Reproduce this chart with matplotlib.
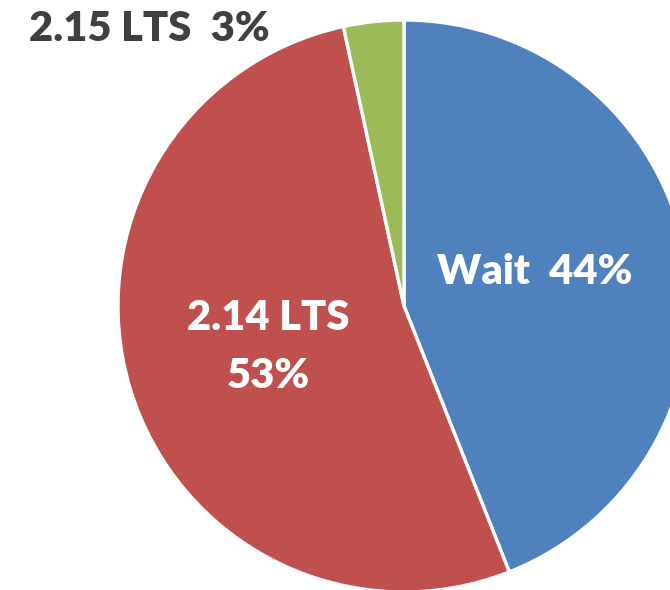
import matplotlib
matplotlib.use("Agg")
import matplotlib.pyplot as plt

categories = ["Wait", "2.14 LTS", "2.15 LTS"]
values = [44.0, 52.6, 3.4]
colors = ["#4F81BD", "#C0504D", "#9BBB59"]

W, H = 670, 590
fig = plt.figure(figsize=(W / 100, H / 100), dpi=100)
ax = fig.add_axes([0, 0, 1, 1])
ax.set_xlim(0, W)
ax.set_ylim(0, H)
ax.set_aspect("equal")
ax.axis("off")

cx, cy, r = 404, H - 306, 286
ax.pie(values, colors=colors, startangle=90, counterclock=False,
       center=(cx, cy), radius=r,
       wedgeprops=dict(edgecolor="white", linewidth=2.4))
ax.set_xlim(0, W)
ax.set_ylim(0, H)

font = dict(family=["Lato", "DejaVu Sans"], fontweight="heavy")
pct = [f"{round(v)}%" for v in values]
ax.text(535, H - 272, f"{categories[0]}  {pct[0]}", color="white",
        fontsize=30, ha="center", va="center", **font)
ax.text(268, H - 318, categories[1], color="white",
        fontsize=30, ha="center", va="center", **font)
ax.text(268, H - 376, pct[1], color="white",
        fontsize=30, ha="center", va="center", **font)
ax.text(149, H - 29, f"{categories[2]}  {pct[2]}", color="#404040",
        fontsize=30, ha="center", va="center", **font)

fig.savefig("out.png", dpi=100)
